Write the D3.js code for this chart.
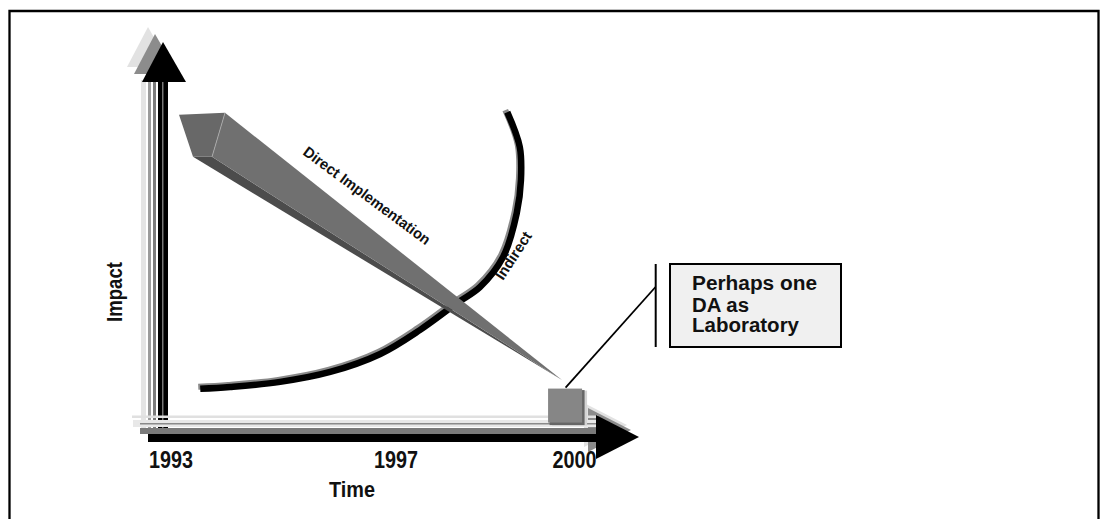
<!DOCTYPE html>
<html lang="en">
<head>
<meta charset="UTF-8">
<title>Impact over time</title>
<script src="https://cdn.jsdelivr.net/npm/d3@7/dist/d3.min.js"></script>
<style>
  body { margin: 0; background: #fff; }
  svg text { font-family: "Liberation Sans Narrow", "Arial Narrow", "Liberation Sans", Arial, sans-serif; font-weight: bold; fill: #111; }
</style>
</head>
<body>
<div id="chart"></div>
<script>
"use strict";

// tick labels on the time axis
const tickYears = [1993, 1997, 2000];
const tickLabels = ["1993", "1997", "2000"];

// "Direct Implementation" wedge: start (thick end) and tip
const directYears = [1993.96, 1999.79];
const directImpact = [8.56, 1.28];

// "Indirect" curve
const indirectYears = [1993.52, 1994.05, 1994.94, 1995.83, 1996.72, 1997.40, 1998.03,
                       1998.41, 1998.80, 1999.03, 1999.10, 1999.08, 1998.87];
const indirectImpact = [1.04, 1.09, 1.23, 1.50, 1.99, 2.64, 3.38,
                        3.81, 4.63, 5.83, 6.73, 7.63, 8.58];

// the small "laboratory" block at the end
const labYear = 1999.85;
const labImpact = 0.57;
const calloutLines = ["Perhaps one", "DA as", "Laboratory"];

const W = 1109, H = 519;

const x = d3.scaleLinear().domain([1993, 1997, 2000]).range([171, 396, 574.5]);
const y = d3.scaleLinear().domain([0, 10]).range([427, 60]);

const svg = d3.select("#chart").append("svg")
    .attr("width", W).attr("height", H);

// frame
svg.append("path")
    .attr("d", "M9.5,540 V11 H1098.5 V540")
    .attr("fill", "none").attr("stroke", "#000").attr("stroke-width", 2.3);

// ---- vertical axis (Impact) ----
const vAxis = svg.append("g");
// shadows of the arrow head
[[-15, -15, "#e2e2e2"], [-8, -8, "#8c8c8c"]].forEach(function (s) {
    vAxis.append("path")
        .attr("d", "M163,42 L186,82 L142,82 Z")
        .attr("transform", "translate(" + s[0] + "," + s[1] + ")")
        .attr("fill", s[2]);
});
const vStripes = [[141, 5, "#e4e4e4"], [148, 3, "#9c9c9c"], [153, 3, "#7c7c7c"], [158, 10, "#000"], [162, 1.5, "#777"]];
vStripes.forEach(function (s) {
    vAxis.append("rect").attr("x", s[0]).attr("y", 80).attr("width", s[1]).attr("height", 348).attr("fill", s[2]);
});
vAxis.append("path").attr("d", "M163,42 L186,82 L142,82 Z").attr("fill", "#000");

// ---- horizontal axis (Time) ----
const hAxis = svg.append("g");
[[-12, -12, "#e2e2e2"], [-8, -7, "#8c8c8c"]].forEach(function (s) {
    hAxis.append("path")
        .attr("d", "M639,437 L596,415 L596,459 Z")
        .attr("transform", "translate(" + s[0] + "," + s[1] + ")")
        .attr("fill", s[2]);
});
const hStripes = [[132, 415.5, 2.5, "#e0e0e0"], [133, 420, 7, "#e8e8e8"], [140, 423, 1.5, "#8a8a8a"],
                  [140, 428, 6, "#7a7a7a"], [148, 434, 8, "#000"]];
hStripes.forEach(function (s) {
    hAxis.append("rect").attr("x", s[0]).attr("y", s[1]).attr("width", 598 - s[0]).attr("height", s[2]).attr("fill", s[3]);
});
hAxis.append("path").attr("d", "M639,437 L596,415 L596,459 Z").attr("fill", "#000");

// tick labels
svg.selectAll("text.tick").data(tickYears).enter().append("text")
    .attr("class", "tick")
    .attr("x", d => x(d)).attr("y", 468)
    .attr("text-anchor", "middle")
    .attr("font-size", 23)
    .attr("textLength", 44).attr("lengthAdjust", "spacingAndGlyphs")
    .text((d, i) => tickLabels[i]);

svg.append("text").attr("x", 352).attr("y", 496.5).attr("text-anchor", "middle")
    .attr("font-size", 22).attr("textLength", 46).attr("lengthAdjust", "spacingAndGlyphs")
    .text("Time");

svg.append("text").attr("transform", "translate(122,292) rotate(-90)")
    .attr("text-anchor", "middle").attr("font-size", 22)
    .attr("textLength", 60).attr("lengthAdjust", "spacingAndGlyphs")
    .text("Impact");

// ---- Indirect curve ----
const pts = indirectYears.map((d, i) => [x(d), y(indirectImpact[i])]);
const line = d3.line().curve(d3.curveCatmullRom.alpha(0.5));
svg.append("path").attr("d", line(pts)).attr("transform", "translate(-2,-2)")
    .attr("fill", "none").attr("stroke", "#8a8a8a").attr("stroke-width", 6);
svg.append("path").attr("d", line(pts))
    .attr("fill", "none").attr("stroke", "#000").attr("stroke-width", 6.5);

svg.append("text").attr("transform", "translate(503,281) rotate(-57)")
    .attr("font-size", 15).attr("textLength", 54).attr("lengthAdjust", "spacingAndGlyphs")
    .text("Indirect");

// ---- Direct Implementation wedge ----
const bx = x(directYears[0]), by = y(directImpact[0]);
const tx = x(directYears[1]), ty = y(directImpact[1]);
const capA = [bx - 46, by + 2], capC = [bx - 13, by + 44], capD = [bx - 32, by + 44];
const poly = p => "M" + p.map(q => q.join(",")).join("L") + "Z";
svg.append("path").attr("d", poly([capD, capC, [tx, ty]])).attr("fill", "#4c4c4c");
svg.append("path").attr("d", poly([[bx, by], [tx, ty], capC])).attr("fill", "#707070");
svg.append("path").attr("d", poly([capA, [bx, by], capC, capD])).attr("fill", "#686868");
svg.append("line").attr("x1", bx).attr("y1", by).attr("x2", capC[0]).attr("y2", capC[1])
    .attr("stroke", "#b0b0b0").attr("stroke-width", 0.8);

svg.append("text").attr("transform", "translate(302,154) rotate(36.5)")
    .attr("font-size", 15).attr("textLength", 154).attr("lengthAdjust", "spacingAndGlyphs")
    .text("Direct Implementation");

// ---- laboratory block + callout ----
const lx = x(labYear), ly = y(labImpact), ls = 35;
svg.append("rect").attr("x", lx - ls / 2 + 4).attr("y", ly - ls / 2 + 2).attr("width", ls).attr("height", ls).attr("fill", "#d4d4d4");
svg.append("rect").attr("x", lx - ls / 2 + 1.5).attr("y", ly - ls / 2 + 1.5).attr("width", ls).attr("height", ls).attr("fill", "#666");
svg.append("rect").attr("x", lx - ls / 2).attr("y", ly - ls / 2).attr("width", ls - 1).attr("height", ls - 1).attr("fill", "#868686");

svg.append("line").attr("x1", lx).attr("y1", ly - ls / 2 - 1).attr("x2", 655.5).attr("y2", 287)
    .attr("stroke", "#000").attr("stroke-width", 1.8);
svg.append("line").attr("x1", 655.7).attr("y1", 264).attr("x2", 655.7).attr("y2", 347)
    .attr("stroke", "#000").attr("stroke-width", 2);
svg.append("rect").attr("x", 670).attr("y", 264).attr("width", 171).attr("height", 83)
    .attr("fill", "#f0f0f0").attr("stroke", "#000").attr("stroke-width", 2);
const lineWidths = [125, 57, 107];
const lineBase = [290, 311.5, 331.5];
svg.selectAll("text.call").data(calloutLines).enter().append("text")
    .attr("class", "call")
    .attr("x", 692).attr("y", (d, i) => lineBase[i])
    .attr("font-size", 19.5)
    .attr("textLength", (d, i) => lineWidths[i]).attr("lengthAdjust", "spacingAndGlyphs")
    .text(d => d);
</script>
</body>
</html>
